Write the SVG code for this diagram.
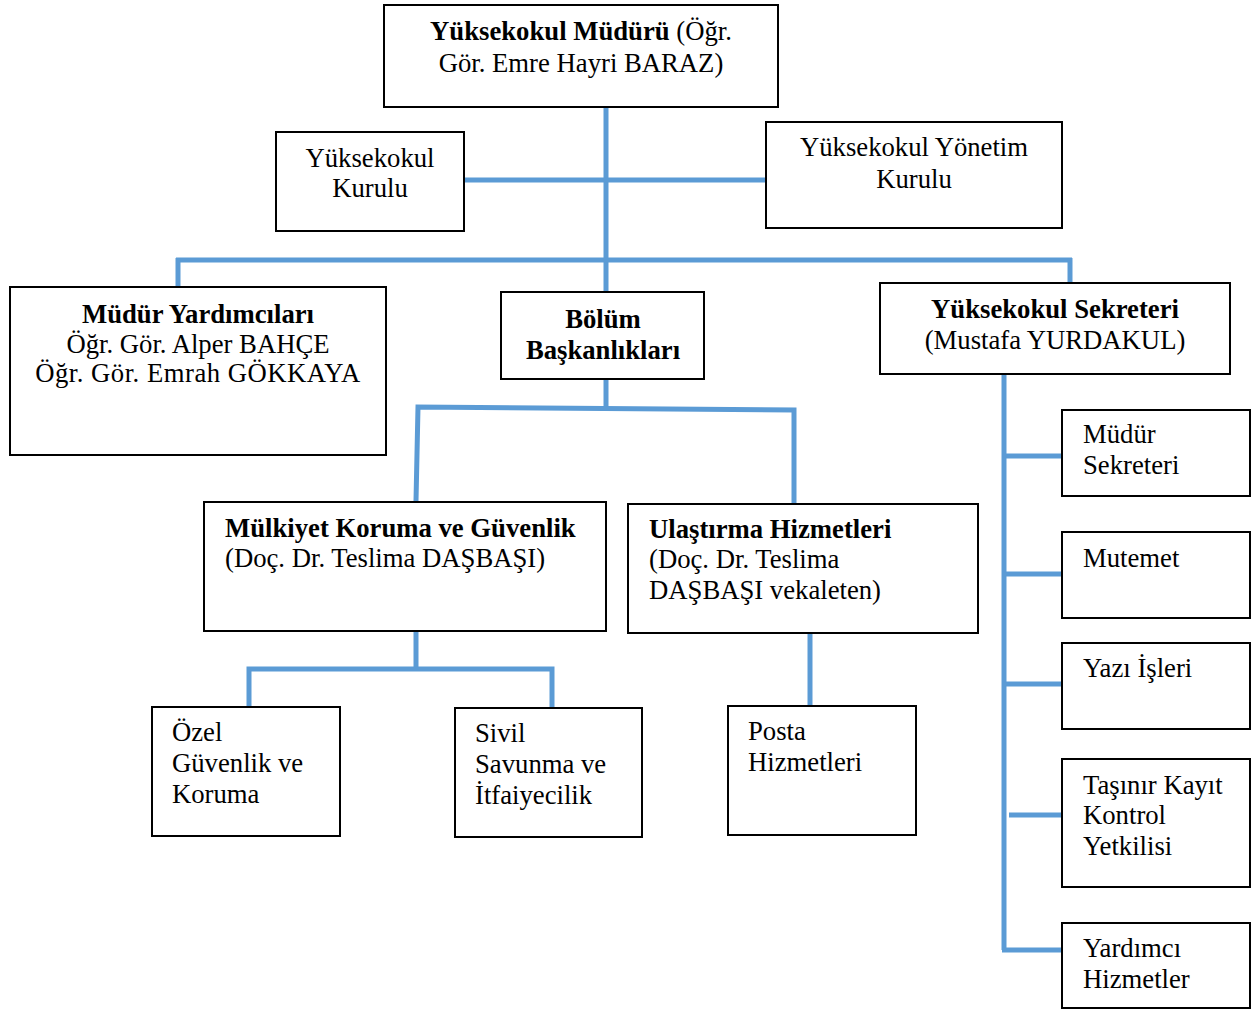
<svg xmlns="http://www.w3.org/2000/svg" width="1257" height="1010" viewBox="0 0 1257 1010">
<style>
.box{fill:#fff;stroke:#000;stroke-width:2}
.t{font-family:"Liberation Serif","Times New Roman",serif;font-size:26.7px;fill:#000}
.c{text-anchor:middle}
.b{font-weight:bold}
.ln{stroke:#5B9BD5;stroke-width:5;fill:none;stroke-linecap:butt}
</style>
<rect width="1257" height="1010" fill="#fff"/>
<g id="connectors">
<line class="ln" x1="606" y1="107" x2="606" y2="292"/>
<line class="ln" x1="464" y1="180" x2="766" y2="180"/>
<line class="ln" x1="176" y1="260" x2="1072" y2="260"/>
<line class="ln" x1="178" y1="258" x2="178" y2="288"/>
<line class="ln" x1="1070" y1="258" x2="1070" y2="283"/>
<line class="ln" x1="606" y1="379" x2="606" y2="408"/>
<polyline class="ln" points="416,501 418,407 794,410 794,503"/>
<line class="ln" x1="416" y1="631" x2="416" y2="669"/>
<polyline class="ln" points="249,707 249,669 552,669 552,708"/>
<line class="ln" x1="810" y1="633" x2="810" y2="706"/>
<line class="ln" x1="1004" y1="374" x2="1004" y2="950"/>
<line class="ln" x1="1004" y1="456" x2="1062" y2="456"/>
<line class="ln" x1="1004" y1="574" x2="1062" y2="574"/>
<line class="ln" x1="1004" y1="684" x2="1062" y2="684"/>
<line class="ln" x1="1009" y1="815" x2="1066" y2="815"/>
<line class="ln" x1="1002" y1="950" x2="1062" y2="950"/>
</g>
<g id="mudur">
<rect class="box" x="384" y="5" width="394" height="102"/>
<text class="t c" x="581" y="40"><tspan class="b">Yüksekokul Müdürü</tspan> (Öğr.</text>
<text class="t c" x="581" y="72">Gör. Emre Hayri BARAZ)</text>
</g>
<g id="kurul">
<rect class="box" x="276" y="132" width="188" height="99"/>
<text class="t c" x="370" y="167">Yüksekokul</text>
<text class="t c" x="370" y="197">Kurulu</text>
</g>
<g id="yonetim">
<rect class="box" x="766" y="122" width="296" height="106"/>
<text class="t c" x="914" y="156">Yüksekokul Yönetim</text>
<text class="t c" x="914" y="188">Kurulu</text>
</g>
<g id="yardimcilar">
<rect class="box" x="10" y="287" width="376" height="168"/>
<text class="t c b" x="198" y="323">Müdür Yardımcıları</text>
<text class="t c" x="198" y="353">Öğr. Gör. Alper BAHÇE</text>
<text class="t c" x="198" y="382" letter-spacing="0.5">Öğr. Gör. Emrah GÖKKAYA</text>
</g>
<g id="bolum">
<rect class="box" x="501" y="292" width="203" height="87"/>
<text class="t c b" x="603" y="328">Bölüm</text>
<text class="t c b" x="603" y="359">Başkanlıkları</text>
</g>
<g id="sekreter">
<rect class="box" x="880" y="283" width="350" height="91"/>
<text class="t c b" x="1055" y="318">Yüksekokul Sekreteri</text>
<text class="t c" x="1055" y="349">(Mustafa YURDAKUL)</text>
</g>
<g id="mulkiyet">
<rect class="box" x="204" y="502" width="402" height="129"/>
<text class="t b" x="225" y="537">Mülkiyet Koruma ve Güvenlik</text>
<text class="t" x="225" y="567">(Doç. Dr. Teslima DAŞBAŞI)</text>
</g>
<g id="ulastirma">
<rect class="box" x="628" y="504" width="350" height="129"/>
<text class="t b" x="649" y="538">Ulaştırma Hizmetleri</text>
<text class="t" x="649" y="568">(Doç. Dr. Teslima</text>
<text class="t" x="649" y="599">DAŞBAŞI vekaleten)</text>
</g>
<g id="ozel">
<rect class="box" x="152" y="707" width="188" height="129"/>
<text class="t" x="172" y="741">Özel</text>
<text class="t" x="172" y="772">Güvenlik ve</text>
<text class="t" x="172" y="803">Koruma</text>
</g>
<g id="sivil">
<rect class="box" x="455" y="708" width="187" height="129"/>
<text class="t" x="475" y="742">Sivil</text>
<text class="t" x="475" y="773">Savunma ve</text>
<text class="t" x="475" y="804">İtfaiyecilik</text>
</g>
<g id="posta">
<rect class="box" x="728" y="706" width="188" height="129"/>
<text class="t" x="748" y="740">Posta</text>
<text class="t" x="748" y="771">Hizmetleri</text>
</g>
<g id="mudursekreteri">
<rect class="box" x="1062" y="410" width="188" height="86"/>
<text class="t" x="1083" y="443">Müdür</text>
<text class="t" x="1083" y="474">Sekreteri</text>
</g>
<g id="mutemet">
<rect class="box" x="1062" y="532" width="188" height="86"/>
<text class="t" x="1083" y="567">Mutemet</text>
</g>
<g id="yaziisleri">
<rect class="box" x="1062" y="643" width="188" height="86"/>
<text class="t" x="1083" y="677">Yazı İşleri</text>
</g>
<g id="tasinir">
<rect class="box" x="1062" y="759" width="188" height="128"/>
<text class="t" x="1083" y="794">Taşınır Kayıt</text>
<text class="t" x="1083" y="824">Kontrol</text>
<text class="t" x="1083" y="855">Yetkilisi</text>
</g>
<g id="yardimci">
<rect class="box" x="1062" y="923" width="188" height="85"/>
<text class="t" x="1083" y="957">Yardımcı</text>
<text class="t" x="1083" y="988">Hizmetler</text>
</g>
</svg>
